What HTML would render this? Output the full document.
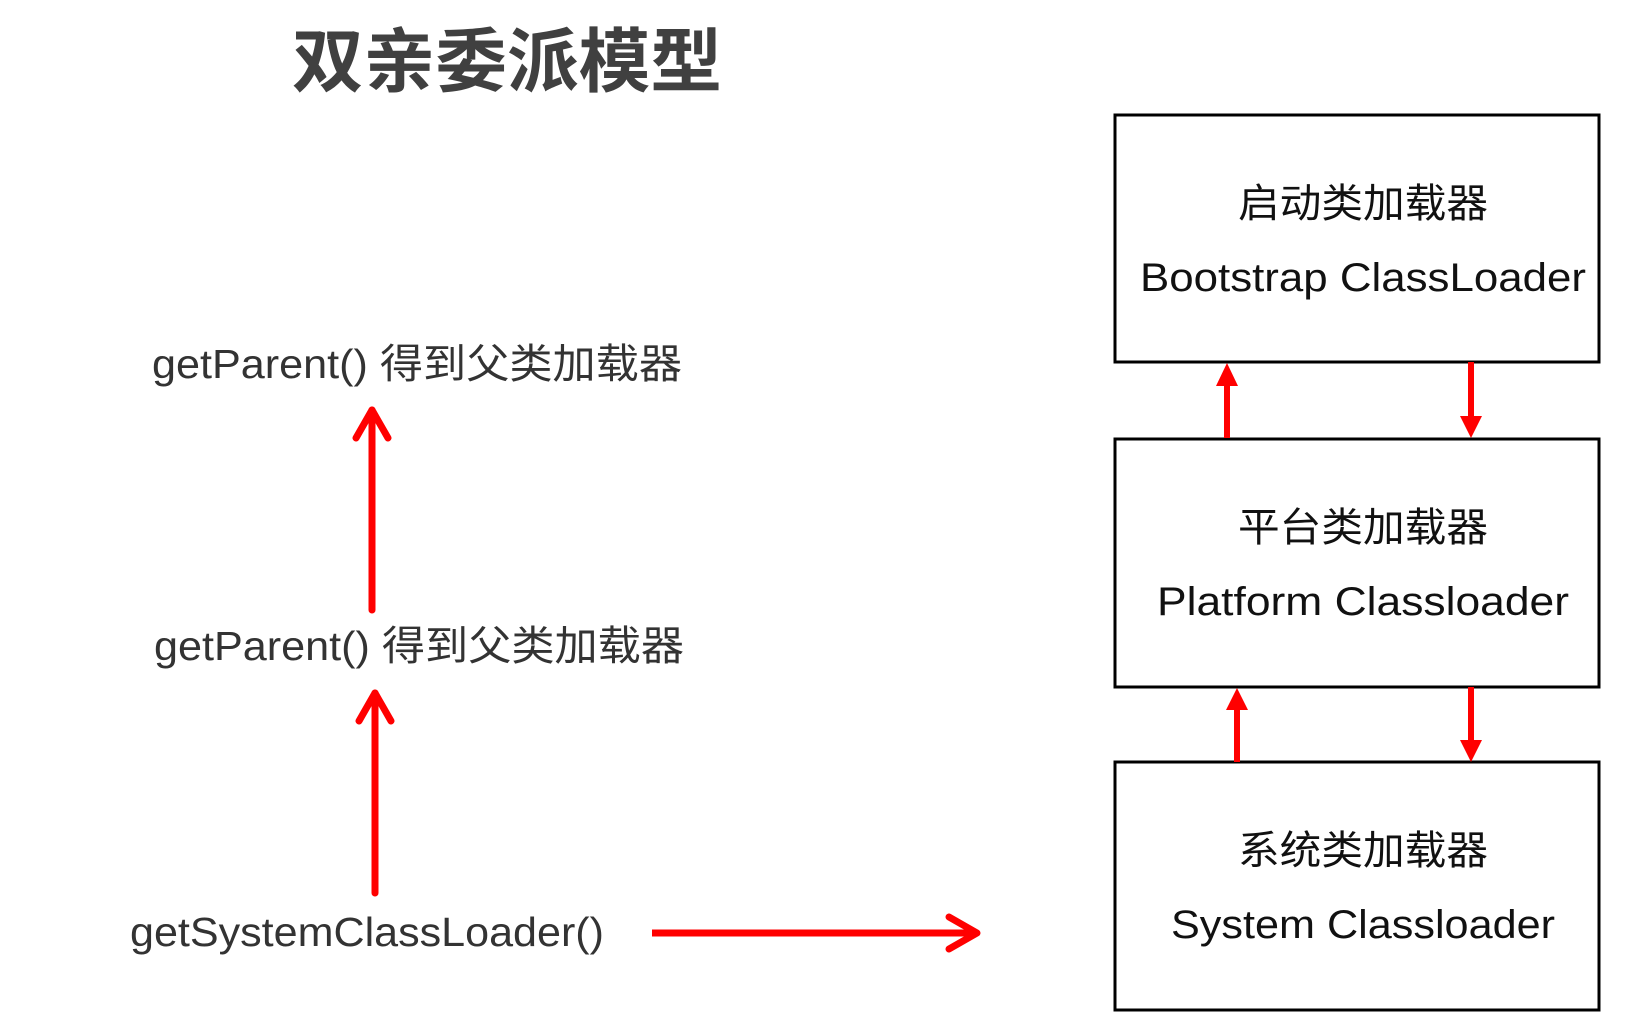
<!DOCTYPE html>
<html><head><meta charset="utf-8"><style>
html,body{margin:0;padding:0;background:#fff;}
svg{display:block;}
</style></head><body>
<svg width="1640" height="1022" viewBox="0 0 1640 1022" xmlns="http://www.w3.org/2000/svg">
<rect width="1640" height="1022" fill="#fff"/>
<g font-family="'Liberation Sans','Noto Sans CJK SC',sans-serif">
<text x="292" y="86" font-size="70" font-weight="bold" fill="#404040" textLength="430" lengthAdjust="spacingAndGlyphs">双亲委派模型</text>
<g fill="#333" font-size="41">
<text x="152" y="378" textLength="530" lengthAdjust="spacingAndGlyphs">getParent() 得到父类加载器</text>
<text x="154" y="660" textLength="530" lengthAdjust="spacingAndGlyphs">getParent() 得到父类加载器</text>
<text x="130" y="946" textLength="474" lengthAdjust="spacingAndGlyphs">getSystemClassLoader()</text>
</g>
<g fill="none" stroke="#000" stroke-width="3">
<rect x="1115" y="115" width="484" height="247"/>
<rect x="1115" y="439" width="484" height="248"/>
<rect x="1115" y="762" width="484" height="248"/>
</g>
<g fill="#111" font-size="40" text-anchor="middle">
<text x="1363" y="217" textLength="250" lengthAdjust="spacingAndGlyphs">启动类加载器</text>
<text x="1363" y="291" textLength="446" lengthAdjust="spacingAndGlyphs">Bootstrap ClassLoader</text>
<text x="1363" y="541" textLength="250" lengthAdjust="spacingAndGlyphs">平台类加载器</text>
<text x="1363" y="615" textLength="412" lengthAdjust="spacingAndGlyphs">Platform Classloader</text>
<text x="1363" y="864" textLength="250" lengthAdjust="spacingAndGlyphs">系统类加载器</text>
<text x="1363" y="938" textLength="384" lengthAdjust="spacingAndGlyphs">System Classloader</text>
</g>
</g>
<g stroke="#f00" stroke-width="7" fill="none" stroke-linecap="round" stroke-linejoin="round">
<line x1="372" y1="410" x2="372" y2="610"/>
<polyline points="356,438 372,410 388,438"/>
<line x1="375" y1="693" x2="375" y2="893"/>
<polyline points="359,721 375,693 391,721"/>
<line x1="652" y1="933" x2="976" y2="933" stroke-linecap="butt"/>
<polyline points="949,917 977,933 949,949"/>
</g>
<g stroke="#f00" stroke-width="6">
<line x1="1227" y1="385" x2="1227" y2="438"/>
<line x1="1471" y1="362" x2="1471" y2="418"/>
<line x1="1237" y1="708" x2="1237" y2="762"/>
<line x1="1471" y1="687" x2="1471" y2="742"/>
</g>
<g fill="#f00">
<polygon points="1216,386 1238,386 1227,363"/>
<polygon points="1460,416 1482,416 1471,438"/>
<polygon points="1226,710 1248,710 1237,688"/>
<polygon points="1460,740 1482,740 1471,762"/>
</g>
</svg>
</body></html>
